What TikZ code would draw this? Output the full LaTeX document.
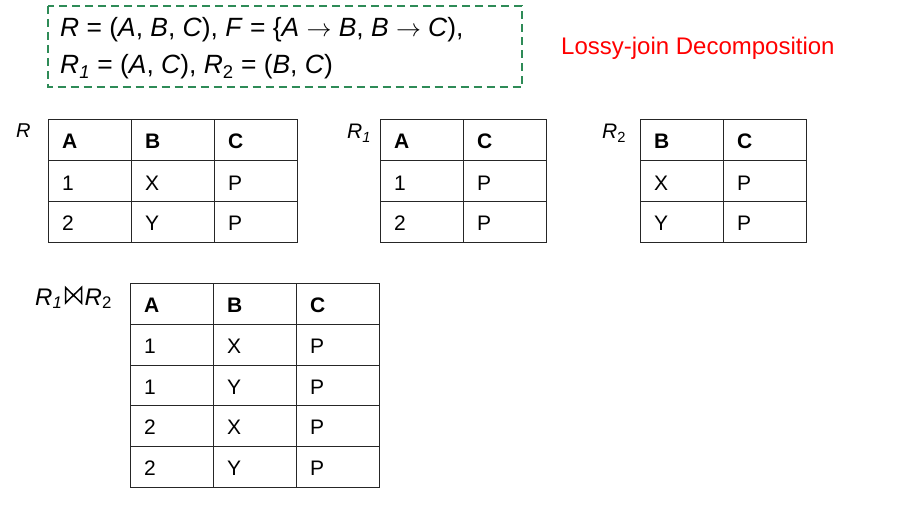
\documentclass[tikz,border=0pt]{standalone}
\usepackage{fontspec}
\setmainfont{Liberation Sans}
\definecolor{boxgreen}{RGB}{46,139,87}
\definecolor{lossred}{RGB}{255,0,0}
\newcommand{\myit}[1]{\textit{#1}}
\begin{document}
\begin{tikzpicture}[x=1pt,y=-1pt,
  grid/.style={line width=1pt, draw=black!85},
  cell/.style={anchor=base west, inner sep=0pt, font=\fontsize{21}{25}\selectfont},
  hcell/.style={anchor=base west, inner sep=0pt, font=\fontsize{21}{25}\selectfont\bfseries},
  lbl/.style={anchor=base west, inner sep=0pt},
  top/.style={anchor=base west, inner sep=0pt, font=\fontsize{26.4}{30}\selectfont}]
\useasboundingbox (0,0) rectangle (906,519);

% dashed box
\draw[draw=boxgreen, line width=2pt, dash pattern=on 8pt off 5pt] (48,6) rectangle (522,87.5);
\node[top] (l1) at (60,37) {\myit{R} = (\myit{A}, \myit{B}, \myit{C}), \myit{F} = \{\myit{A} $\rightarrow$ \myit{B}, \myit{B} $\rightarrow$ \myit{C}),};
\node[top] (l2) at (60,74) {\myit{R}\textsubscript{\myit{1}} = (\myit{A}, \myit{C}), \myit{R}\textsubscript{2} = (\myit{B}, \myit{C})};

\node[lbl, font=\fontsize{24}{28}\selectfont, text=lossred] (title) at (561,55) {Lossy-join Decomposition};

% labels
\node[lbl, font=\fontsize{20}{24}\selectfont] (labR) at (16,137) {\myit{R}};
\node[lbl, font=\fontsize{21}{25}\selectfont] (labR1) at (347,139) {\myit{R}\textsubscript{\myit{1}}};
\node[lbl, font=\fontsize{21}{25}\selectfont] (labR2) at (602,139) {\myit{R}\textsubscript{2}};
\node[lbl, font=\fontsize{24}{28}\selectfont] (labJa) at (35,305) {\myit{R}\textsubscript{\myit{1}}};
\node[lbl, font=\fontsize{24}{28}\selectfont] (labJb) at (84.5,305) {\myit{R}\textsubscript{2}};
\coordinate (bt1) at (65.5,287.5);
\coordinate (bt2) at (65.5,303);
\coordinate (bt3) at (81.5,287.5);
\coordinate (bt4) at (81.5,303);
\draw[line width=1.5pt, line join=miter] (bt1) -- (bt2) -- (bt3) -- (bt4) -- cycle;

% table R
\draw[grid] (48,120) rectangle (297,242.5);
\draw[grid] (131,120) -- (131,242.5) (214,120) -- (214,242.5)
            (48,160.7) -- (297,160.7) (48,201.5) -- (297,201.5);
\node[hcell] (rA) at (62,149) {A};
\node[hcell] (rB) at (145,149) {B};
\node[hcell] (rC) at (228,149) {C};
\node[cell] (r11) at (62,190) {1};
\node[cell] (r12) at (145,190) {X};
\node[cell] (r13) at (228,190) {P};
\node[cell] (r21) at (62,230.5) {2};
\node[cell] (r22) at (145,230.5) {Y};
\node[cell] (r23) at (228,230.5) {P};

% table R1
\draw[grid] (380,120) rectangle (546,242.5);
\draw[grid] (463,120) -- (463,242.5)
            (380,160.7) -- (546,160.7) (380,201.5) -- (546,201.5);
\node[hcell] (aA) at (394,149) {A};
\node[hcell] (aC) at (477,149) {C};
\node[cell] (a11) at (394,190) {1};
\node[cell] (a12) at (477,190) {P};
\node[cell] (a21) at (394,230.5) {2};
\node[cell] (a22) at (477,230.5) {P};

% table R2
\draw[grid] (640,120) rectangle (806.5,242.5);
\draw[grid] (723.3,120) -- (723.3,242.5)
            (640,160.7) -- (806.5,160.7) (640,201.5) -- (806.5,201.5);
\node[hcell] (bB) at (654,149) {B};
\node[hcell] (bC) at (737,149) {C};
\node[cell] (b11) at (654,190) {X};
\node[cell] (b12) at (737,190) {P};
\node[cell] (b21) at (654,230.5) {Y};
\node[cell] (b22) at (737,230.5) {P};

% join table
\draw[grid] (130.5,283.3) rectangle (379.3,487.3);
\draw[grid] (213.3,283.3) -- (213.3,487.3) (296.7,283.3) -- (296.7,487.3)
            (130.5,324.3) -- (379.3,324.3) (130.5,365) -- (379.3,365)
            (130.5,405.7) -- (379.3,405.7) (130.5,446.7) -- (379.3,446.7);
\node[hcell] (jA) at (144,312.5) {A};
\node[hcell] (jB) at (227,312.5) {B};
\node[hcell] (jC) at (310,312.5) {C};
\node[cell] (j11) at (144,353) {1};
\node[cell] (j12) at (227,353) {X};
\node[cell] (j13) at (310,353) {P};
\node[cell] (j21) at (144,394) {1};
\node[cell] (j22) at (227,394) {Y};
\node[cell] (j23) at (310,394) {P};
\node[cell] (j31) at (144,434.5) {2};
\node[cell] (j32) at (227,434.5) {X};
\node[cell] (j33) at (310,434.5) {P};
\node[cell] (j41) at (144,475.5) {2};
\node[cell] (j42) at (227,475.5) {Y};
\node[cell] (j43) at (310,475.5) {P};
\end{tikzpicture}
\end{document}
